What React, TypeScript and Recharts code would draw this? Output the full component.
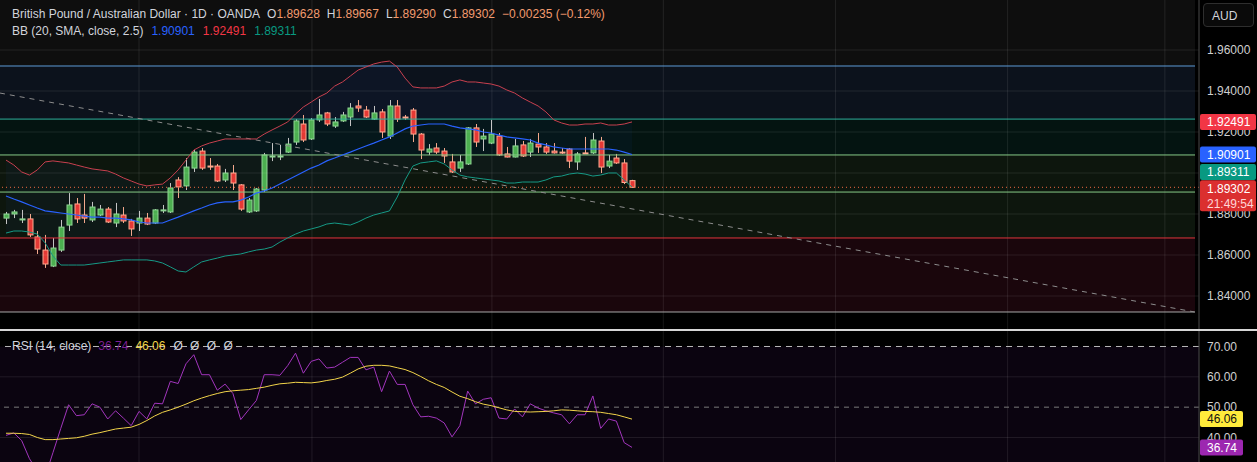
import React from "react";
import { Area, Bar, ComposedChart, Line, ReferenceArea, ReferenceLine, XAxis, YAxis } from "recharts";

// daily GBP/AUD candles, oldest first
const opens = [
  1.878, 1.88, 1.8771, 1.8776, 1.8688, 1.8624, 1.8546, 1.8624, 1.8746, 1.8849,
  1.8795, 1.8771, 1.8795, 1.8824, 1.8756, 1.8795, 1.8766, 1.8756, 1.878, 1.8756,
  1.8815, 1.881, 1.8966, 1.8937, 1.9024, 1.9107, 1.9034, 1.9034, 1.8966, 1.9,
  1.8942, 1.881, 1.8815, 1.8917, 1.9078, 1.9078, 1.9102, 1.9151, 1.9239, 1.9166,
  1.9259, 1.9293, 1.9229, 1.9254, 1.9273, 1.9327, 1.9307, 1.9263, 1.9298, 1.918,
  1.9327, 1.9273, 1.9307, 1.919, 1.9102, 1.9122, 1.9107, 1.9054, 1.9024, 1.9044,
  1.922, 1.9166, 1.9146, 1.918, 1.9093, 1.9078, 1.9137, 1.9102, 1.9141, 1.9127,
  1.9107, 1.9102, 1.9117, 1.9054, 1.9098, 1.9098, 1.9156, 1.9034, 1.9073, 1.9049,
  1.89628,
];
const highs = [
  1.881, 1.882, 1.882, 1.88, 1.8717, 1.8698, 1.8683, 1.8771, 1.8902, 1.8878,
  1.8898, 1.8859, 1.8844, 1.8834, 1.8854, 1.8834, 1.8776, 1.8815, 1.8805, 1.8824,
  1.8844, 1.8951, 1.898, 1.9073, 1.9112, 1.9122, 1.9073, 1.9044, 1.902, 1.9039,
  1.8946, 1.8878, 1.8927, 1.9098, 1.9146, 1.9137, 1.9171, 1.9263, 1.9283, 1.9268,
  1.9361, 1.9298, 1.9273, 1.9298, 1.9341, 1.9356, 1.9327, 1.9327, 1.9312, 1.9356,
  1.9356, 1.9283, 1.9317, 1.9195, 1.9141, 1.9146, 1.9122, 1.9093, 1.9088, 1.9224,
  1.9239, 1.9215, 1.9259, 1.9195, 1.9127, 1.9166, 1.9156, 1.9166, 1.9195, 1.9146,
  1.9146, 1.9122, 1.9122, 1.9102, 1.9176, 1.9195, 1.9176, 1.9088, 1.9093, 1.9068,
  1.89667,
];
const lows = [
  1.8751, 1.878, 1.8756, 1.8688, 1.8605, 1.8537, 1.8541, 1.8615, 1.8717, 1.8756,
  1.8756, 1.8761, 1.879, 1.8756, 1.8736, 1.8756, 1.8693, 1.8717, 1.8746, 1.8751,
  1.8805, 1.8805, 1.8878, 1.8917, 1.9005, 1.9015, 1.9015, 1.8956, 1.8956, 1.8917,
  1.8815, 1.8805, 1.881, 1.8907, 1.9058, 1.9063, 1.9098, 1.9137, 1.9151, 1.9161,
  1.9249, 1.9229, 1.922, 1.9249, 1.9229, 1.9298, 1.9268, 1.9259, 1.9171, 1.9166,
  1.9249, 1.9259, 1.9151, 1.9068, 1.9088, 1.9093, 1.9049, 1.9, 1.9005, 1.9039,
  1.9127, 1.9107, 1.9141, 1.9083, 1.9076, 1.9076, 1.9078, 1.9078, 1.9098, 1.9093,
  1.9095, 1.9093, 1.9024, 1.9015, 1.9093, 1.9093, 1.9, 1.9024, 1.9044, 1.8946,
  1.8929,
];
const closes = [
  1.88, 1.881, 1.8776, 1.8698, 1.8629, 1.8556, 1.8634, 1.8736, 1.8844, 1.8776,
  1.878, 1.8834, 1.8824, 1.8761, 1.88, 1.8766, 1.8727, 1.878, 1.8751, 1.882,
  1.882, 1.8927, 1.8932, 1.9029, 1.9102, 1.9024, 1.9029, 1.8961, 1.9, 1.8951,
  1.8824, 1.8868, 1.8922, 1.9088, 1.9083, 1.9083, 1.9141, 1.9254, 1.9161, 1.9259,
  1.9283, 1.9239, 1.9249, 1.9283, 1.9317, 1.9317, 1.9273, 1.9293, 1.92, 1.9327,
  1.9263, 1.9268, 1.919, 1.9112, 1.9117, 1.9102, 1.9083, 1.9005, 1.9054, 1.922,
  1.9151, 1.918, 1.919, 1.9088, 1.9078, 1.9132, 1.9083, 1.9146, 1.9127, 1.9102,
  1.9098, 1.91, 1.9058, 1.9093, 1.9096, 1.9161, 1.9029, 1.9058, 1.9049, 1.89537,
  1.89302,
];

// Bollinger bands (20, SMA, close, 2.5)
const bbUpper = [
  1.9063, 1.9039, 1.9005, 1.899, 1.9015, 1.9054, 1.9059, 1.9054, 1.9049, 1.9039,
  1.9029, 1.902, 1.9015, 1.901, 1.8995, 1.8976, 1.8961, 1.8946, 1.8937, 1.8942,
  1.8946, 1.8976, 1.9015, 1.9063, 1.9112, 1.9132, 1.9146, 1.9156, 1.9166, 1.9166,
  1.9166, 1.9166, 1.9166, 1.919, 1.921, 1.9229, 1.9249, 1.9288, 1.9322, 1.9346,
  1.9371, 1.939, 1.9424, 1.9444, 1.9473, 1.9502, 1.9517, 1.9532, 1.9541, 1.9546,
  1.9517, 1.9463, 1.942, 1.9415, 1.9415, 1.9415, 1.9424, 1.9444, 1.9454, 1.9444,
  1.9444, 1.9439, 1.9434, 1.9424, 1.9405, 1.939, 1.9366, 1.9346, 1.9327, 1.9298,
  1.9259, 1.9244, 1.9234, 1.9234, 1.9239, 1.9239, 1.9244, 1.9234, 1.9234, 1.9239,
  1.92491,
];
const bbBasis = [
  1.8888, 1.8873, 1.8859, 1.8844, 1.8829, 1.8815, 1.881, 1.8805, 1.88, 1.8795,
  1.879, 1.8785, 1.8785, 1.878, 1.878, 1.8776, 1.8771, 1.8761, 1.8756, 1.8756,
  1.8756, 1.8771, 1.8785, 1.88, 1.8815, 1.8829, 1.8844, 1.8854, 1.8859, 1.8859,
  1.8868, 1.8883, 1.8902, 1.8912, 1.8927, 1.8946, 1.8966, 1.8985, 1.9005, 1.9024,
  1.9039, 1.9059, 1.9073, 1.9088, 1.9102, 1.9117, 1.9132, 1.9146, 1.9161, 1.9176,
  1.9195, 1.9215, 1.9229, 1.9234, 1.9239, 1.9239, 1.9239, 1.9229, 1.922, 1.9215,
  1.921, 1.92, 1.9195, 1.9185, 1.9176, 1.9171, 1.9166, 1.9161, 1.9146, 1.9137,
  1.9127, 1.9122, 1.9117, 1.9117, 1.9117, 1.9117, 1.9117, 1.9117, 1.9112, 1.9102,
  1.90901,
];
const bbLower = [
  1.8707, 1.8717, 1.8717, 1.8712, 1.8702, 1.8659, 1.8595, 1.8551, 1.8551, 1.8551,
  1.8551, 1.8556, 1.8561, 1.8566, 1.8571, 1.8576, 1.8576, 1.8576, 1.8576, 1.8571,
  1.8561, 1.8542, 1.8522, 1.8517, 1.8542, 1.8566, 1.8576, 1.8585, 1.8595, 1.86,
  1.8605, 1.8615, 1.8624, 1.8629, 1.8639, 1.8663, 1.8683, 1.8702, 1.8717, 1.8727,
  1.8737, 1.8751, 1.8756, 1.8751, 1.8746, 1.8761, 1.878, 1.8795, 1.8805, 1.8815,
  1.8883, 1.8966, 1.9034, 1.9049, 1.9054, 1.9059, 1.9044, 1.9015, 1.899, 1.8981,
  1.8976, 1.8971, 1.8966, 1.8961, 1.8951, 1.8951, 1.8956, 1.8956, 1.8956, 1.8966,
  1.8981, 1.8985, 1.8995, 1.9, 1.8995, 1.8985, 1.899, 1.9, 1.9, 1.8966,
  1.89311,
];

// RSI (14, close) and its moving average
const rsiValues = [
  40.7, 41.5, 39.0, 33.0, 29.0, 27.0, 35.0, 43.0, 50.8, 47.2,
  47.5, 51.1, 50.0, 46.1, 48.8, 46.4, 43.9, 48.6, 46.1, 51.3,
  51.1, 58.5, 57.8, 64.3, 67.3, 60.7, 60.7, 55.6, 57.6, 54.5,
  45.9, 49.1, 52.2, 60.7, 60.7, 60.5, 63.7, 67.8, 61.2, 65.1,
  65.9, 62.9, 63.2, 64.8, 66.4, 66.4, 62.3, 63.2, 55.1, 61.9,
  57.5, 57.5, 50.8, 46.8, 47.0, 46.4, 44.8, 40.2, 43.9, 55.3,
  51.1, 52.6, 53.1, 46.4, 46.1, 49.4, 46.8, 51.1, 49.7, 48.8,
  48.1, 47.5, 44.5, 47.5, 47.5, 53.7, 43.0, 46.1, 45.4, 38.3,
  36.74,
];
const rsiMa = [
  41.4, 41.4, 41.3, 41.0, 40.0, 39.3, 39.3, 39.5, 39.7, 39.9,
  40.4, 41.1, 41.6, 42.2, 42.8, 43.1, 43.4, 44.3, 45.6, 47.1,
  48.3, 49.1, 50.0, 51.0, 52.1, 53.0, 53.8, 54.5, 55.1, 55.4,
  55.6, 55.8, 56.2, 56.6, 57.2, 57.7, 57.9, 58.2, 58.1, 58.0,
  58.3, 58.8, 59.2, 59.9, 61.2, 62.6, 63.5, 63.8, 63.8, 63.6,
  63.0, 62.4, 61.4, 60.1, 58.7, 57.5, 56.5, 55.0, 53.6, 52.8,
  51.8, 51.0, 50.5, 49.8, 49.1, 48.6, 48.5, 48.4, 48.5, 48.6,
  48.8, 49.1, 49.0, 48.8, 48.6, 48.5, 48.3, 47.9, 47.5, 46.8,
  46.06,
];

const priceTicks = [1.84, 1.86, 1.88, 1.9, 1.92, 1.94, 1.96];
const rsiTicks = [40, 50, 60, 70];
const monthLines = [17, 39.1, 62.1, 84, 106, 128, 148.1];
const levels = [1.9522, 1.9263, 1.9088, 1.8907, 1.8683, 1.8322];
const trendLine = [
  { x: -0.77, y: 1.939 },
  { x: 151.9, y: 1.8322 },
];
const clock = "21:49:54";

const X_DOMAIN: [number, number] = [-0.767, 152.46];
const X_END = 151.95;
const PRICE_DOMAIN: [number, number] = [1.8239, 1.98439];
const RSI_DOMAIN: [number, number] = [31.92, 75.11];
const W = 1257;
const AXIS_W = 58;
const FONT = "'Liberation Sans', Arial, sans-serif";
const GRID = "rgba(255,255,255,0.09)";

const priceData = closes.map((c, i) => ({
  i,
  open: opens[i],
  high: highs[i],
  low: lows[i],
  close: c,
  range: [lows[i], highs[i]],
  upper: bbUpper[i],
  basis: bbBasis[i],
  lower: bbLower[i],
  band: [bbLower[i], bbUpper[i]],
}));
const rsiData = rsiValues.map((v, i) => ({ i, rsi: v, ma: rsiMa[i] }));

const last = closes.length - 1;
const change = closes[last] - closes[last - 1];
const fmt = (v: number) => (v < 0 ? "\u2212" : "") + Math.abs(v).toFixed(5);

function Candle(props: any) {
  const { x, y, width, height, payload } = props;
  if (!payload || !isFinite(y) || !isFinite(height)) return null;
  const top = Math.min(y, y + height);
  const span = Math.abs(height);
  const range = payload.high - payload.low || 1;
  const py = (v: number) => top + ((payload.high - v) / range) * span;
  const up = payload.close >= payload.open;
  const cx = Math.round(x + width / 2) + 0.5;
  const bTop = py(Math.max(payload.open, payload.close));
  const bBot = py(Math.min(payload.open, payload.close));
  return (
    <g>
      <line x1={cx} x2={cx} y1={top} y2={top + span} stroke={up ? "#c4c4c4" : "#f3a88c"} strokeWidth={1} />
      <rect
        x={cx - 2.5}
        y={bTop}
        width={5}
        height={Math.max(1, bBot - bTop)}
        fill={up ? "#4caf50" : "#e53935"}
        stroke={up ? "#8fd694" : "#ffab91"}
        strokeWidth={1}
      />
    </g>
  );
}

function badge(lines: string[], bg: string, fg: string[], shift = 0, w = 56) {
  return (p: any) => {
    const vb = p.viewBox;
    if (!vb) return null;
    const x = vb.x + vb.width + 1;
    const cy = vb.y + shift;
    const h = lines.length * 15 + 1;
    return (
      <g>
        <rect x={x} y={cy - 8} width={w} height={h} rx={2} fill={bg} />
        {lines.map((t, k) => (
          <text key={k} x={x + 7} y={cy + k * 15} dy="0.36em" fontSize={12} fill={fg[k]} fontFamily={FONT}>
            {t}
          </text>
        ))}
      </g>
    );
  };
}

function PriceChart() {
  const zoneFills = [
    "rgba(60,92,140,0.40)",
    "rgba(18,96,80,0.42)",
    "rgba(62,104,62,0.42)",
    "rgba(62,104,62,0.42)",
    "rgba(125,30,55,0.42)",
  ];
  const lineColors = ["#5d9ad6", "#2fae9a", "#86c986", "#86c986", "#e0343c", "#a8a8a8"];
  return (
    <ComposedChart width={W} height={329} data={priceData} margin={{ top: 0, right: 0, bottom: 0, left: 0 }}>
      <XAxis type="number" dataKey="i" domain={X_DOMAIN} allowDataOverflow hide />
      <YAxis
        orientation="right"
        width={AXIS_W}
        domain={PRICE_DOMAIN}
        allowDataOverflow
        ticks={priceTicks}
        interval={0}
        tickFormatter={(v: number) => v.toFixed(5)}
        tick={{ fill: "#cfcfcf", fontSize: 12 }}
        tickLine={false}
        axisLine={{ stroke: "#4a4a4a" }}
      />
      <ReferenceArea x1={X_DOMAIN[0]} x2={X_END} y1={levels[0]} y2={PRICE_DOMAIN[1]} fill="rgba(70,70,70,0.4)" strokeOpacity={0} ifOverflow="hidden" />
      {zoneFills.map((f, k) => (
        <ReferenceArea key={k} x1={X_DOMAIN[0]} x2={X_END} y1={levels[k + 1]} y2={levels[k]} fill={f} strokeOpacity={0} ifOverflow="hidden" />
      ))}
      {priceTicks.map((t) => (
        <ReferenceLine key={t} y={t} stroke={GRID} />
      ))}
      {monthLines.map((m) => (
        <ReferenceLine key={m} x={m} stroke={GRID} />
      ))}
      {levels.map((l, k) => (
        <ReferenceLine key={"l" + k} segment={[{ x: X_DOMAIN[0], y: l }, { x: X_END, y: l }]} stroke={lineColors[k]} strokeWidth={1} ifOverflow="visible" />
      ))}
      <ReferenceLine segment={trendLine} stroke="#8c8c8c" strokeDasharray="5 5" strokeWidth={1} ifOverflow="visible" />
      <Area dataKey="band" stroke="none" fill="rgba(41,98,255,0.07)" isAnimationActive={false} />
      <Line dataKey="upper" stroke="#c8404f" strokeWidth={1} dot={false} isAnimationActive={false} />
      <Line dataKey="basis" stroke="#2962ff" strokeWidth={1.2} dot={false} isAnimationActive={false} />
      <Line dataKey="lower" stroke="#169a86" strokeWidth={1} dot={false} isAnimationActive={false} />
      <ReferenceLine y={closes[last]} stroke="#f06a42" strokeDasharray="1 3" strokeWidth={1} />
      <Bar dataKey="range" barSize={6} shape={Candle} isAnimationActive={false} />
    </ComposedChart>
  );
}

function PriceBadges() {
  return (
    <ComposedChart width={W} height={329} data={priceData} margin={{ top: 0, right: 0, bottom: 0, left: 0 }}>
      <XAxis type="number" dataKey="i" domain={X_DOMAIN} allowDataOverflow hide />
      <YAxis orientation="right" width={AXIS_W} domain={PRICE_DOMAIN} allowDataOverflow tick={false} tickLine={false} axisLine={false} />
      <ReferenceLine y={bbUpper[last]} strokeOpacity={0} label={{ content: badge([bbUpper[last].toFixed(5)], "#f23645", ["#ffffff"]) }} />
      <ReferenceLine y={bbBasis[last]} strokeOpacity={0} label={{ content: badge([bbBasis[last].toFixed(5)], "#2962ff", ["#ffffff"]) }} />
      <ReferenceLine y={bbLower[last]} strokeOpacity={0} label={{ content: badge([bbLower[last].toFixed(5)], "#089981", ["#ffffff"], -15) }} />
      <ReferenceLine y={closes[last]} strokeOpacity={0} label={{ content: badge([closes[last].toFixed(5), clock], "#db2f2f", ["#ffffff", "#ffd6d6"], 1) }} />
    </ComposedChart>
  );
}

function RsiChart() {
  return (
    <ComposedChart width={W} height={131} data={rsiData} margin={{ top: 0, right: 0, bottom: 0, left: 0 }}>
      <XAxis type="number" dataKey="i" domain={X_DOMAIN} allowDataOverflow hide />
      <YAxis
        orientation="right"
        width={AXIS_W}
        domain={RSI_DOMAIN}
        allowDataOverflow
        ticks={rsiTicks}
        interval={0}
        tickFormatter={(v: number) => v.toFixed(2)}
        tick={{ fill: "#cfcfcf", fontSize: 12 }}
        tickLine={false}
        axisLine={{ stroke: "#4a4a4a" }}
      />
      <ReferenceArea x1={X_DOMAIN[0]} x2={X_DOMAIN[1]} y1={RSI_DOMAIN[0]} y2={70} fill="#15081f" strokeOpacity={0} ifOverflow="hidden" />
      {monthLines.map((m) => (
        <ReferenceLine key={m} x={m} stroke={GRID} />
      ))}
      <ReferenceLine y={60} stroke={GRID} />
      <ReferenceLine y={40} stroke={GRID} />
      <ReferenceLine y={70} stroke="#b8b8b8" strokeDasharray="6 5" />
      <ReferenceLine y={50} stroke="#7a7a7a" strokeDasharray="5 5" />
      <Line dataKey="rsi" stroke="#a235bd" strokeWidth={1} dot={false} isAnimationActive={false} />
      <Line dataKey="ma" stroke="#f2d44a" strokeWidth={1} dot={false} isAnimationActive={false} />
    </ComposedChart>
  );
}

function RsiBadges() {
  return (
    <ComposedChart width={W} height={131} data={rsiData} margin={{ top: 0, right: 0, bottom: 0, left: 0 }}>
      <XAxis type="number" dataKey="i" domain={X_DOMAIN} allowDataOverflow hide />
      <YAxis orientation="right" width={AXIS_W} domain={RSI_DOMAIN} allowDataOverflow tick={false} tickLine={false} axisLine={false} />
      <ReferenceLine y={rsiMa[last]} strokeOpacity={0} label={{ content: badge([rsiMa[last].toFixed(2)], "#ffeb3b", ["#111111"], 0, 43) }} />
      <ReferenceLine y={rsiValues[last]} strokeOpacity={0} label={{ content: badge([rsiValues[last].toFixed(2)], "#9c27b0", ["#ffffff"], 0, 43) }} />
    </ComposedChart>
  );
}

export default function App() {
  const orange = "#f29b6e";
  const gap = { marginLeft: 7 };
  return (
    <div style={{ position: "absolute", left: 0, top: 0, width: W, height: 462, background: "#000", fontFamily: FONT, overflow: "hidden" }}>
      <div style={{ position: "absolute", left: 0, top: 0 }}>
        <PriceChart />
      </div>
      <div style={{ position: "absolute", left: 0, top: 0 }}>
        <PriceBadges />
      </div>
      <div style={{ position: "absolute", left: 0, top: 329, width: W, height: 2, background: "#d6d6d6" }} />
      <div style={{ position: "absolute", left: 0, top: 331 }}>
        <RsiChart />
      </div>
      <div style={{ position: "absolute", left: 0, top: 331 }}>
        <RsiBadges />
      </div>

      <div style={{ position: "absolute", left: 12, top: 6, fontSize: 12, lineHeight: "16px", color: "#d1d4dc", whiteSpace: "nowrap" }}>
        <span>British Pound / Australian Dollar · 1D · OANDA</span>
        <span style={gap}>O<span style={{ color: orange }}>{opens[last].toFixed(5)}</span></span>
        <span style={gap}>H<span style={{ color: orange }}>{highs[last].toFixed(5)}</span></span>
        <span style={gap}>L<span style={{ color: orange }}>{lows[last].toFixed(5)}</span></span>
        <span style={gap}>C<span style={{ color: orange }}>{closes[last].toFixed(5)}</span></span>
        <span style={{ ...gap, color: orange }}>
          {fmt(change)} ({change < 0 ? "\u2212" : ""}{Math.abs((change / closes[last - 1]) * 100).toFixed(2)}%)
        </span>
      </div>
      <div style={{ position: "absolute", left: 12, top: 23, fontSize: 12, lineHeight: "16px", color: "#d1d4dc", whiteSpace: "nowrap" }}>
        <span>BB (20, SMA, close, 2.5)</span>
        <span style={{ marginLeft: 8, color: "#2962ff" }}>{bbBasis[last].toFixed(5)}</span>
        <span style={{ marginLeft: 8, color: "#f23645" }}>{bbUpper[last].toFixed(5)}</span>
        <span style={{ marginLeft: 8, color: "#089981" }}>{bbLower[last].toFixed(5)}</span>
      </div>
      <div style={{ position: "absolute", left: 12, top: 338, fontSize: 12, lineHeight: "16px", color: "#d1d4dc", whiteSpace: "nowrap" }}>
        <span>RSI (14, close)</span>
        <span style={{ marginLeft: 7, color: "#7b1f93" }}>{rsiValues[last].toFixed(2)}</span>
        <span style={{ marginLeft: 7, color: "#f2d44a" }}>{rsiMa[last].toFixed(2)}</span>
        <span style={{ marginLeft: 8, wordSpacing: 4 }}>Ø Ø Ø Ø</span>
      </div>
      <div
        style={{
          position: "absolute",
          left: 1203,
          top: 3,
          width: 51,
          height: 24,
          border: "1px solid #2e2e2e",
          borderRadius: 4,
          background: "#0a0a0a",
          color: "#d1d4dc",
          fontSize: 12,
          lineHeight: "24px",
          paddingLeft: 8,
          boxSizing: "border-box",
        }}
      >
        AUD
      </div>
    </div>
  );
}
